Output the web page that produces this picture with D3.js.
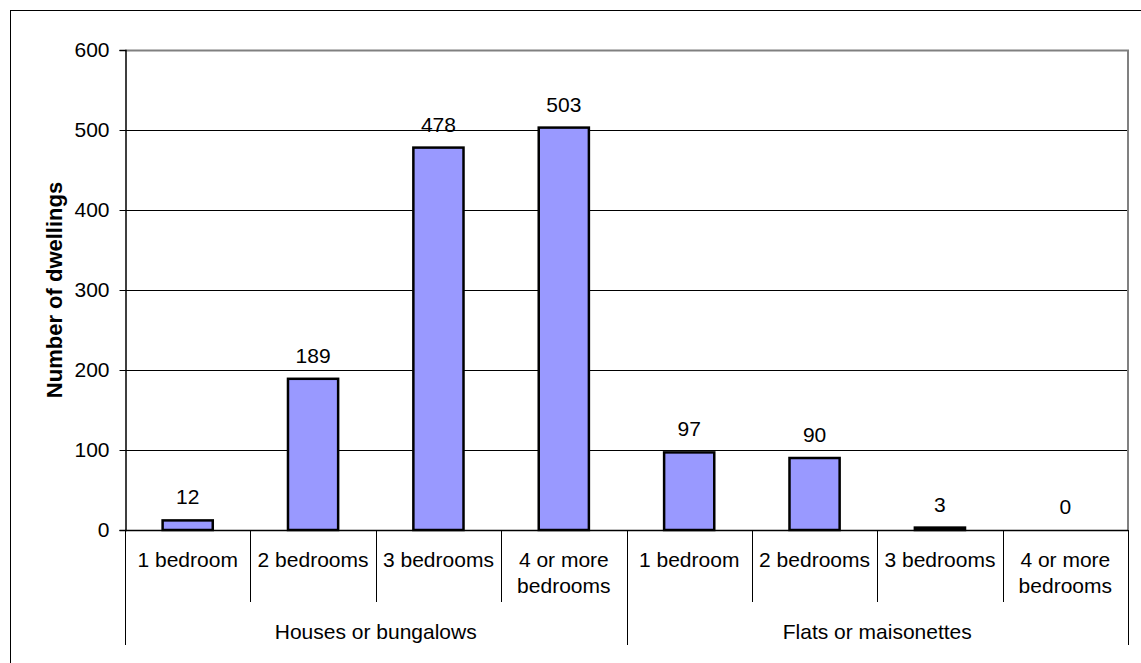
<!DOCTYPE html>
<html>
<head>
<meta charset="utf-8">
<script src="https://cdn.jsdelivr.net/npm/d3@7"></script>
<style>
  html, body { margin: 0; padding: 0; background: #fff; }
  svg { display: block; font-family: "Liberation Sans", Arial, sans-serif; }
</style>
</head>
<body>
<svg id="chart" width="1141" height="663"></svg>
<script>
// Dwellings by type and number of bedrooms
const groups = ["Houses or bungalows", "Flats or maisonettes"];
const bedrooms = ["1 bedroom", "2 bedrooms", "3 bedrooms", "4 or more bedrooms"];
const housesValues = [12, 189, 478, 503];
const flatsValues = [97, 90, 3, 0];
const yTicks = [0, 100, 200, 300, 400, 500, 600];
const yTitle = "Number of dwellings";

const seriesByGroup = [housesValues, flatsValues];
const rows = [];
groups.forEach((g, gi) => {
  bedrooms.forEach((b, bi) => {
    rows.push({ key: g + "|" + b, group: g, label: b, value: seriesByGroup[gi][bi] });
  });
});

const FS = 21;
const svg = d3.select("#chart");
const W = 1141, H = 663;
const plot = { left: 125, right: 1128, top: 50, bottom: 530 };

// Outer chart frame (runs past the right and bottom edges)
svg.append("rect")
  .attr("x", 10.5).attr("y", 10.5)
  .attr("width", W + 20).attr("height", H + 20)
  .attr("fill", "none").attr("stroke", "#000").attr("stroke-width", 1);

const x = d3.scaleBand()
  .domain(rows.map(d => d.key))
  .range([plot.left, plot.right])
  .paddingInner(0.6)
  .paddingOuter(0.3);

const slot = d3.scaleBand()
  .domain(rows.map(d => d.key))
  .range([plot.left, plot.right])
  .padding(0);

const y = d3.scaleLinear().domain([0, 600]).range([plot.bottom, plot.top]);

// Horizontal gridlines
svg.append("g")
  .selectAll("line")
  .data(yTicks.filter(t => t > 0 && t < 600))
  .join("line")
  .attr("x1", plot.left).attr("x2", plot.right)
  .attr("y1", d => Math.round(y(d)) + 0.5).attr("y2", d => Math.round(y(d)) + 0.5)
  .attr("stroke", "#000").attr("stroke-width", 1);

// Plot area border (top and right)
svg.append("path")
  .attr("d", `M${plot.left},${plot.top + 0.5}H${plot.right}V${plot.bottom}`)
  .attr("fill", "none").attr("stroke", "#808080").attr("stroke-width", 2);

// Bars
svg.append("g")
  .selectAll("rect")
  .data(rows)
  .join("rect")
  .attr("x", d => x(d.key))
  .attr("width", x.bandwidth())
  .attr("y", d => y(d.value))
  .attr("height", d => y(0) - y(d.value))
  .attr("fill", "#9999ff")
  .attr("stroke", "#000")
  .attr("stroke-width", 2.5);

// Value labels
svg.append("g")
  .selectAll("text")
  .data(rows)
  .join("text")
  .attr("x", d => x(d.key) + x.bandwidth() / 2)
  .attr("y", d => y(d.value) - 16)
  .attr("text-anchor", "middle")
  .attr("font-size", FS)
  .attr("fill", "#000")
  .text(d => d.value);

// Y axis
const yAxis = d3.axisLeft(y).tickValues(yTicks).tickSize(6).tickPadding(10);
const yg = svg.append("g")
  .attr("transform", `translate(${plot.left + 0.5},0)`)
  .call(yAxis);
yg.select(".domain").attr("stroke", "#000").attr("stroke-width", 1.5);
yg.selectAll(".tick line").attr("stroke", "#000");
yg.selectAll(".tick text")
  .attr("font-size", FS)
  .attr("font-family", "'Liberation Sans', Arial, sans-serif")
  .attr("fill", "#000");

// X axis baseline
svg.append("line")
  .attr("x1", plot.left).attr("x2", plot.right)
  .attr("y1", plot.bottom + 0.5).attr("y2", plot.bottom + 0.5)
  .attr("stroke", "#000").attr("stroke-width", 1.5);

// Category dividers: bedroom level and group level
const boundaries = rows.map(d => slot(d.key)).concat([plot.right]);
svg.append("g")
  .selectAll("line")
  .data(boundaries)
  .join("line")
  .attr("x1", d => Math.round(d) + 0.5)
  .attr("x2", d => Math.round(d) + 0.5)
  .attr("y1", plot.bottom)
  .attr("y2", (d, i) => (i % bedrooms.length === 0) ? 645 : 602)
  .attr("stroke", "#000").attr("stroke-width", 1);

// Bedroom labels, wrapped to fit each slot
function wrapLines(text, width, size) {
  const words = text.split(" ");
  const tmp = svg.append("text").attr("font-size", size);
  const lines = [];
  let line = [];
  words.forEach(w => {
    const trial = line.concat([w]).join(" ");
    tmp.text(trial);
    if (tmp.node().getComputedTextLength() > width && line.length) {
      lines.push(line.join(" "));
      line = [w];
    } else {
      line.push(w);
    }
  });
  if (line.length) lines.push(line.join(" "));
  tmp.remove();
  return lines;
}

const catLabels = svg.append("g")
  .selectAll("text")
  .data(rows)
  .join("text")
  .attr("text-anchor", "middle")
  .attr("font-size", FS)
  .attr("fill", "#000");
catLabels.each(function (d) {
  const lines = wrapLines(d.label, slot.bandwidth() - 4, FS);
  const cx = slot(d.key) + slot.bandwidth() / 2;
  d3.select(this).selectAll("tspan")
    .data(lines)
    .join("tspan")
    .attr("x", cx)
    .attr("y", (l, i) => 567 + i * 26)
    .text(l => l);
});

// Group labels
svg.append("g")
  .selectAll("text")
  .data(groups)
  .join("text")
  .attr("x", g => {
    const first = slot(g + "|" + bedrooms[0]);
    const last = slot(g + "|" + bedrooms[bedrooms.length - 1]) + slot.bandwidth();
    return (first + last) / 2;
  })
  .attr("y", 639)
  .attr("text-anchor", "middle")
  .attr("font-size", FS)
  .attr("fill", "#000")
  .text(g => g);

// Y axis title
svg.append("text")
  .attr("transform", `translate(62,${(plot.top + plot.bottom) / 2}) rotate(-90)`)
  .attr("text-anchor", "middle")
  .attr("font-size", 22)
  .attr("font-weight", "bold")
  .attr("fill", "#000")
  .text(yTitle);
</script>
</body>
</html>
